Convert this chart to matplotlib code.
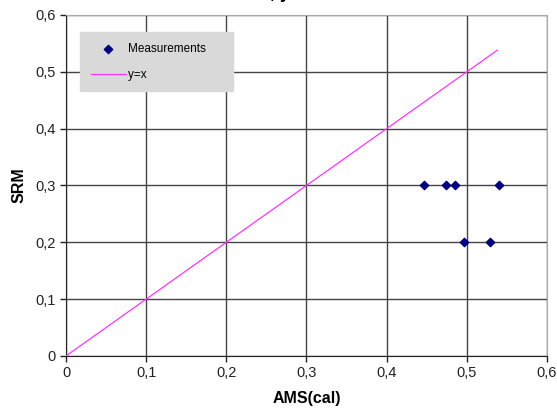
import numpy as np
import matplotlib
matplotlib.use("Agg")
import matplotlib.pyplot as plt
from matplotlib.ticker import FuncFormatter

plt.rcParams['font.family'] = ['Liberation Sans', 'DejaVu Sans']

# measured points (AMS calibrated vs SRM)
ams = [0.447, 0.474, 0.485, 0.540, 0.497, 0.529]
srm = [0.30, 0.30, 0.30, 0.30, 0.20, 0.20]

# y = x reference line
line_x = [0.0, 0.538]
line_y = [0.0, 0.538]

ticks = [0.0, 0.1, 0.2, 0.3, 0.4, 0.5, 0.6]


def comma(v, pos):
    if abs(v) < 1e-9:
        return "0"
    return ("%.1f" % v).replace(".", ",")


fig = plt.figure(figsize=(5.57, 4.12), dpi=100)
ax = fig.add_axes([0.1185, 0.136, 0.8635, 0.8276])

ax.plot(line_x, line_y, color="#ff33ff", lw=0.9, label="y=x", zorder=3)
ax.scatter(ams, srm, marker="D", s=18, color="#000080", label="Measurements", zorder=4)

ax.set_xlim(0, 0.6)
ax.set_ylim(0, 0.6)
ax.set_xticks(ticks)
ax.set_yticks(ticks)
ax.xaxis.set_major_formatter(FuncFormatter(comma))
ax.yaxis.set_major_formatter(FuncFormatter(comma))
ax.tick_params(direction="out", length=4, width=1, labelsize=10.5, colors="#222222")
ax.grid(True, color="#444444", lw=1)
ax.set_axisbelow(True)

for s in ["left", "bottom"]:
    ax.spines[s].set_color("#222222")
for s in ["top", "right"]:
    ax.spines[s].set_color("#aaaaaa")

ax.set_xlabel("AMS(cal)", fontsize=11.5, fontweight="bold", labelpad=8)
ax.set_ylabel("SRM", fontsize=11.5, fontweight="bold", labelpad=6)

# legend sits on a grey panel without frame, reversed order
h, l = ax.get_legend_handles_labels()
leg = ax.legend(h[::-1], l[::-1], loc="upper left", bbox_to_anchor=(0.029, 0.95),
                fontsize=8.5, frameon=True, fancybox=False, borderpad=0.9,
                labelspacing=1.2, handlelength=3.0, handletextpad=0.2,
                borderaxespad=0)
for t in leg.get_texts():
    t.set_text(t.get_text() + "     ")
leg.get_frame().set_facecolor("#d9d9d9")
leg.get_frame().set_edgecolor("#d9d9d9")
leg.get_frame().set_alpha(1)

# title mostly above the image edge
fig.text(0.485, 1.004, ", y", fontsize=13, fontweight="bold", va="baseline", ha="left")

fig.savefig("out.png", dpi=100)
